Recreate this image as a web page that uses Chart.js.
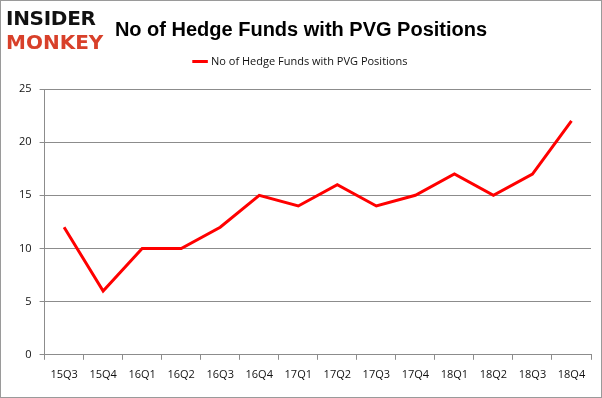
<!DOCTYPE html>
<html>
<head>
<meta charset="utf-8">
<script src="https://cdn.jsdelivr.net/npm/chart.js@4.4.0/dist/chart.umd.min.js"></script>
<style>
    html, body { margin: 0; padding: 0; background: #fff; }
    #wrap { position: relative; width: 600px; height: 396px; border: 1px solid #9a9a9a; }
    #logo { position: absolute; left: 5px; top: 5px; font-family: 'DejaVu Sans', sans-serif; font-weight: bold; line-height: 24px; }
    #logo .a { color: #111; font-size: 20px; letter-spacing: -0.3px; }
    #logo .b { color: #d8402a; font-size: 20px; letter-spacing: 0px; }
    canvas { position: absolute; left: 0; top: 0; }
</style>
</head>
<body>
<div id="wrap">
    <canvas id="chart" width="600" height="396"></canvas>
    <div id="logo"><div class="a">INSIDER</div><div class="b">MONKEY</div></div>
</div>
<script>
const quarters = ['15Q3', '15Q4', '16Q1', '16Q2', '16Q3', '16Q4', '17Q1', '17Q2', '17Q3', '17Q4', '18Q1', '18Q2', '18Q3', '18Q4'];
const hedgeFunds = [12, 6, 10, 10, 12, 15, 14, 16, 14, 15, 17, 15, 17, 22];
const seriesName = 'No of Hedge Funds with PVG Positions';

const axisGray = '#8c8c8c';
const font = { family: 'Open Sans, sans-serif', size: 11 };

// extra room under the legend, like the original
const legendGap = {
    id: 'legendGap',
    beforeInit(chart) {
        const fit = chart.legend.fit;
        chart.legend.fit = function () {
            fit.bind(chart.legend)();
            this.height += 12;
        };
    }
};

new Chart(document.getElementById('chart'), {
    type: 'line',
    data: {
        labels: quarters,
        datasets: [{
            label: seriesName,
            data: hedgeFunds,
            borderColor: '#ff0000',
            backgroundColor: '#ff0000',
            borderWidth: 3,
            pointRadius: 0,
            tension: 0
        }]
    },
    options: {
        responsive: false,
        animation: false,
        layout: { padding: { left: 10, right: 10, bottom: 8 } },
        plugins: {
            title: {
                display: true,
                text: seriesName,
                color: '#000',
                font: { family: 'Liberation Sans, sans-serif', size: 20, weight: 'bold' },
                padding: { top: 17, bottom: 4 }
            },
            legend: {
                labels: {
                    color: '#111',
                    font: font,
                    usePointStyle: true,
                    pointStyle: 'line',
                    boxWidth: 26,
                    padding: 10
                }
            },
            tooltip: { enabled: false }
        },
        scales: {
            x: {
                offset: true,
                grid: { offset: true, drawOnChartArea: false, color: axisGray, tickLength: 5 },
                border: { color: axisGray },
                ticks: { color: '#111', font: font, padding: 8, maxRotation: 0 }
            },
            y: {
                min: 0,
                max: 25,
                ticks: { stepSize: 5, color: '#111', font: font, padding: 8 },
                grid: { color: axisGray, tickLength: 5 },
                border: { color: axisGray }
            }
        }
    },
    plugins: [legendGap]
});
</script>
</body>
</html>
